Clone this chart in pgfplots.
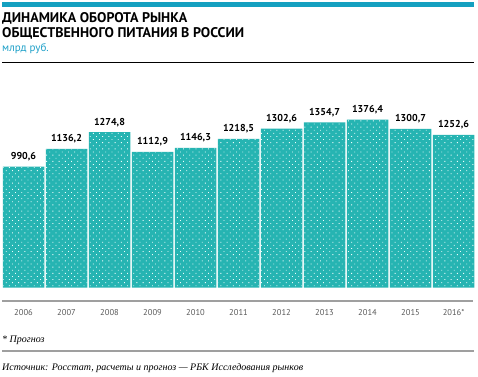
\documentclass[border=0pt]{standalone}
\usepackage{fontspec}
\setmainfont{PT Sans}
\newfontfamily\srcfont{Liberation Serif}
\usepackage{pgfplots}
\pgfplotsset{compat=1.18}
\usetikzlibrary{patterns.meta}
\definecolor{barteal}{RGB}{38,180,178}
\definecolor{dotcol}{RGB}{240,252,252}
\definecolor{topblue}{RGB}{20,160,192}
\definecolor{subblue}{RGB}{30,160,200}
\begin{document}
\begin{tikzpicture}
\path (0pt,0pt) rectangle (478pt,376pt);
\fill[topblue] (2pt,369pt) rectangle (474pt,374pt);
\draw[line width=1.2pt] (2pt,313.5pt) -- (474pt,313.5pt);
\node[anchor=base west, inner sep=0, font=\bfseries\fontsize{14}{16}\selectfont] at (2pt,354pt) {ДИНАМИКА ОБОРОТА РЫНКА};
\node[anchor=base west, inner sep=0, font=\bfseries\fontsize{14}{16}\selectfont] at (2pt,339pt) {ОБЩЕСТВЕННОГО ПИТАНИЯ В РОССИИ};
\node[anchor=base west, inner sep=0, font=\upshape\fontsize{11}{13}\selectfont, text=subblue] at (2pt,325pt) {млрд руб.};
\begin{axis}[
  at={(238.5pt,173.2pt)}, anchor=center,
  scale only axis, width=473pt, height=196.4pt,
  xmin=-0.5, xmax=10.5, ymin=-110, ymax=1500,
  ybar, bar width=41.5pt,
  axis line style={draw=none},
  ytick=\empty,
  xtick=data, xtick style={draw=none},
  xticklabels={2006,2007,2008,2009,2010,2011,2012,2013,2014,2015,2016*},
  xticklabel style={font=\fontsize{8.5}{10}\selectfont, text=gray!70!black, yshift=-1pt},
  /pgf/number format/assume math mode=true,
  nodes near coords,
  nodes near coords style={font=\bfseries\fontsize{10}{12}\selectfont, yshift=2pt,
    /pgf/number format/.cd, fixed, fixed zerofill, precision=1, use comma, 1000 sep={}},
  clip=false,
]
\draw[gray!75, line width=1.3pt] (rel axis cs:0,0) -- (rel axis cs:0.996,0);
\addplot[draw=none, fill=barteal,
  postaction={pattern={Dots[distance=4.4pt, radius=0.6pt, angle=45]}, pattern color=dotcol}]
  coordinates {(0,990.6) (1,1136.2) (2,1274.8) (3,1112.9) (4,1146.3) (5,1218.5) (6,1302.6) (7,1354.7) (8,1376.4) (9,1300.7) (10,1252.6)};
\end{axis}
\node[anchor=base west, inner sep=0, font=\srcfont\itshape\fontsize{10}{12}\selectfont] at (2pt,34pt) {* Прогноз};
\draw[gray!75, line width=1.3pt] (2pt,25pt) -- (474pt,25pt);
\node[anchor=base west, inner sep=0, font=\srcfont\itshape\fontsize{10}{12}\selectfont] at (2pt,6pt) {Источник: Росстат, расчеты и прогноз — РБК Исследования рынков};
\end{tikzpicture}
\end{document}
